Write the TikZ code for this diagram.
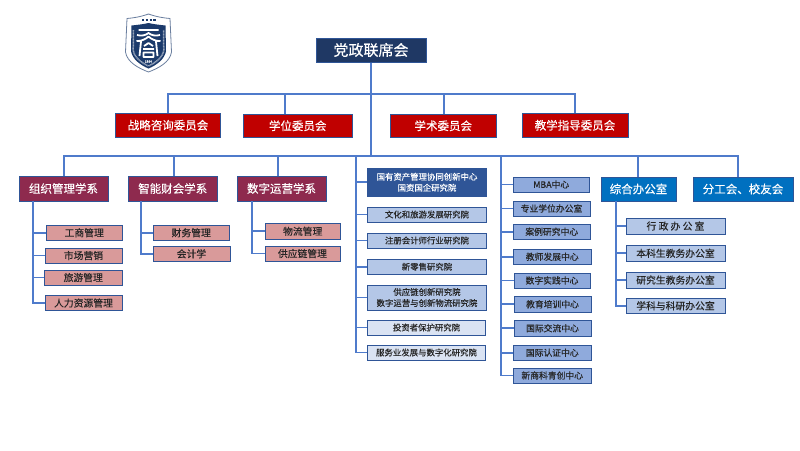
\documentclass[tikz,border=0pt]{standalone}
\usepackage{fontspec}
\setmainfont{Noto Sans CJK SC}[RawFeature={embolden=0.3}]
\definecolor{navy}{HTML}{1F3864}
\definecolor{edge}{HTML}{2F5597}
\definecolor{linkc}{HTML}{4F7BCB}
\definecolor{crimson}{HTML}{C00000}
\definecolor{wine}{HTML}{8E2A4E}
\definecolor{rosy}{HTML}{D99A9A}
\definecolor{instA}{HTML}{B4C7E7}
\definecolor{instB}{HTML}{DAE3F3}
\definecolor{midblue}{HTML}{8FAADC}
\definecolor{darkblue}{HTML}{2F5597}
\definecolor{brightblue}{HTML}{0070C0}
\definecolor{ink}{HTML}{262626}
\definecolor{logoc}{HTML}{1B3A6B}
\tikzset{
  link/.style={draw=linkc,line width=1.6pt},
  base/.style={draw=edge,line width=1pt,inner sep=0pt,align=center},
  topbox/.style={base,fill=navy,text=white,font=\fontsize{15}{17}\selectfont},
  redbox/.style={base,fill=crimson,text=white,font=\fontsize{11.5}{13}\selectfont},
  deptbox/.style={base,fill=wine,text=white,font=\fontsize{11.5}{13}\selectfont},
  subbox/.style={base,fill=rosy,text=ink,font=\fontsize{9.8}{11}\selectfont},
  instbox/.style={base,fill=instA,text=ink,font=\fontsize{8.4}{11}\selectfont},
  instlight/.style={base,fill=instB,text=ink,font=\fontsize{8.4}{11}\selectfont},
  instdark/.style={base,fill=darkblue,text=white,font=\fontsize{8.4}{11}\selectfont},
  centrebox/.style={base,fill=midblue,text=ink,font=\fontsize{8.8}{11}\selectfont},
  officebox/.style={base,fill=brightblue,text=white,font=\fontsize{11.5}{13}\selectfont},
  officesub/.style={base,fill=instA,text=ink,font=\fontsize{9.8}{11}\selectfont},
}
% name, x1, y1, x2, y2, style, text
\newcommand{\bx}[7]{\node[#6,minimum width={#4pt-#2pt},minimum height={#5pt-#3pt}] (#1) at ({(#2+#4)/2},{(#3+#5)/2}) {#7};}
\begin{document}
\begin{tikzpicture}[x=1pt,y=-1pt]
\useasboundingbox (0,0) rectangle (800,450);
\fill[white] (0,0) rectangle (800,450);

% logo
\begin{scope}
\draw[draw=logoc!65,line width=0.8pt,fill=white]
  (148.5,14) .. controls (140,17) and (133,18) .. (127,18.5)
  -- (125.5,52) .. controls (127,62) and (138,68) .. (148.5,72)
  .. controls (159,68) and (170,62) .. (171.5,52)
  -- (170,18.5) .. controls (164,18) and (157,17) .. (148.5,14) -- cycle;
\fill[logoc]
  (148.5,23) .. controls (142,24.5) and (136,25) .. (131.5,25.5)
  -- (131,51) .. controls (132,59) and (141,65.5) .. (148.5,68.5)
  .. controls (156,65.5) and (165,59) .. (166,51)
  -- (165.5,25.5) .. controls (161,25) and (155,24.5) .. (148.5,23) -- cycle;
\draw[white!55!logoc,line width=1.5pt,dash pattern=on 1pt off 0.5pt]
  (133.5,30) -- (133.2,50) .. controls (134,57.5) and (142,63) .. (148.5,66)
  .. controls (155,63) and (163,57.5) .. (163.8,50) -- (163.5,30);
\draw[logoc,line width=1.6pt,dash pattern=on 2.4pt off 1.4pt] (142,20.2) -- (155.5,20.2);
\draw[white,line width=1.8pt,line join=round]
  (138.5,30) -- (158.5,30)
  (137,35) .. controls (142,36.5) and (146,35) .. (148.5,33) .. controls (151,35) and (155,36.5) .. (160,35)
  (136.5,41) .. controls (141,41.5) and (146,39) .. (148.5,36.5) .. controls (151,39) and (156,41.5) .. (160.5,41)
  (141,41.5) -- (139.5,56) (156,41.5) -- (157.5,56)
  (144,46) -- (148.5,43) -- (153,46)
  (143,49) -- (154,49)
  (143.5,52.5) rectangle (153.5,57);
\node[white,font=\fontsize{3.2}{3.5}\selectfont,inner sep=0pt] (logoyear) at (148.5,61.5) {1950};
\end{scope}

% nodes
\bx{top}{316}{38}{426}{62}{topbox}{党政联席会}
\bx{c1}{115.5}{113}{220.5}{137.5}{redbox}{战略咨询委员会}
\bx{c2}{243}{114}{352.5}{137.5}{redbox}{学位委员会}
\bx{c3}{390.5}{114}{496}{137.5}{redbox}{学术委员会}
\bx{c4}{522}{113}{628}{137.5}{redbox}{教学指导委员会}

\bx{d1}{19}{176}{108}{201}{deptbox}{组织管理学系}
\bx{d2}{128.5}{176}{217}{201}{deptbox}{智能财会学系}
\bx{d3}{237}{176}{326}{201}{deptbox}{数字运营学系}

\bx{s11}{46.5}{225}{122}{240.5}{subbox}{工商管理}
\bx{s12}{45}{248}{122}{263}{subbox}{市场营销}
\bx{s13}{44.5}{270}{122}{285}{subbox}{旅游管理}
\bx{s14}{45}{295.5}{122}{310.5}{subbox}{人力资源管理}
\bx{s21}{153.5}{225}{229}{240.5}{subbox}{财务管理}
\bx{s22}{153}{246.5}{230}{261}{subbox}{会计学}
\bx{s31}{265}{223.5}{340.5}{239}{subbox}{物流管理}
\bx{s32}{265}{246}{340}{261}{subbox}{供应链管理}

\bx{i1}{367.5}{168.5}{486.5}{196}{instdark}{国有资产管理协同创新中心\\国资国企研究院}
\bx{i2}{367.5}{207}{486.5}{222}{instbox}{文化和旅游发展研究院}
\bx{i3}{367.5}{233}{486.5}{248}{instbox}{注册会计师行业研究院}
\bx{i4}{367.5}{259}{486.5}{274.5}{instbox}{新零售研究院}
\bx{i5}{367.5}{285}{486.5}{310}{instbox}{供应链创新研究院\\数字运营与创新物流研究院}
\bx{i6}{367.5}{320}{485.5}{335}{instlight}{投资者保护研究院}
\bx{i7}{367.5}{345}{485.5}{360}{instlight}{服务业发展与数字化研究院}

\bx{m1}{513.5}{177}{589}{192}{centrebox}{MBA中心}
\bx{m2}{513}{201}{590}{216}{centrebox}{专业学位办公室}
\bx{m3}{513.5}{224}{590}{239.5}{centrebox}{案例研究中心}
\bx{m4}{513.5}{249}{591}{264.5}{centrebox}{教师发展中心}
\bx{m5}{514}{273}{590}{288}{centrebox}{数字实践中心}
\bx{m6}{514}{296.5}{591}{312}{centrebox}{教育培训中心}
\bx{m7}{514}{320.5}{591}{336}{centrebox}{国际交流中心}
\bx{m8}{513.5}{345}{591}{360.5}{centrebox}{国际认证中心}
\bx{m9}{513.5}{368}{591}{383}{centrebox}{新商科青创中心}

\bx{o1}{601}{177}{676}{201}{officebox}{综合办公室}
\bx{o2}{693}{177}{793}{201}{officebox}{分工会、校友会}
\bx{p1}{626}{218}{725}{234}{officesub}{行 政 办 公 室}
\bx{p2}{626}{245.5}{725}{261}{officesub}{本科生教务办公室}
\bx{p3}{626}{272}{725}{288}{officesub}{研究生教务办公室}
\bx{p4}{626}{298.5}{725}{313}{officesub}{学科与科研办公室}

% bus coordinates
\coordinate (j1) at (371,94);
\coordinate (j2) at (371,156);
\coordinate (u1) at (168,94);
\coordinate (u2) at (285,94);
\coordinate (u3) at (444,94);
\coordinate (u4) at (575,94);
\coordinate (v1) at (64,156);
\coordinate (v2) at (174,156);
\coordinate (v3) at (278,156);
\coordinate (v4) at (356,156);
\coordinate (v5) at (501,156);
\coordinate (v6) at (638,156);
\coordinate (v7) at (738,156);
\coordinate (t1) at (33,201);
\coordinate (t2) at (141,201);
\coordinate (t3) at (252,201);
\coordinate (t6) at (616,201);

% connectors
\draw[link] (top.south -| j1) -- (j2);
\draw[link] (u1 |- c1.north) -- (u1) -- (u4) -- (u4 |- c4.north);
\draw[link] (u2) -- (u2 |- c2.north);
\draw[link] (u3) -- (u3 |- c3.north);
\draw[link] (v1 |- d1.north) -- (v1) -- (v7) -- (v7 |- o2.north);
\draw[link] (v2) -- (v2 |- d2.north);
\draw[link] (v3) -- (v3 |- d3.north);
\draw[link] (v6) -- (v6 |- o1.north);
\foreach \a in {11,12,13,14} {\draw[link] (t1) |- (s\a.west);}
\foreach \a in {21,22} {\draw[link] (t2) |- (s\a.west);}
\foreach \a in {31,32} {\draw[link] (t3) |- (s\a.west);}
\foreach \a in {1,...,7} {\draw[link] (v4) |- (i\a.west);}
\foreach \a in {1,...,9} {\draw[link] (v5) |- (m\a.west);}
\foreach \a in {1,...,4} {\draw[link] (t6) |- (p\a.west);}
\end{tikzpicture}
\end{document}
